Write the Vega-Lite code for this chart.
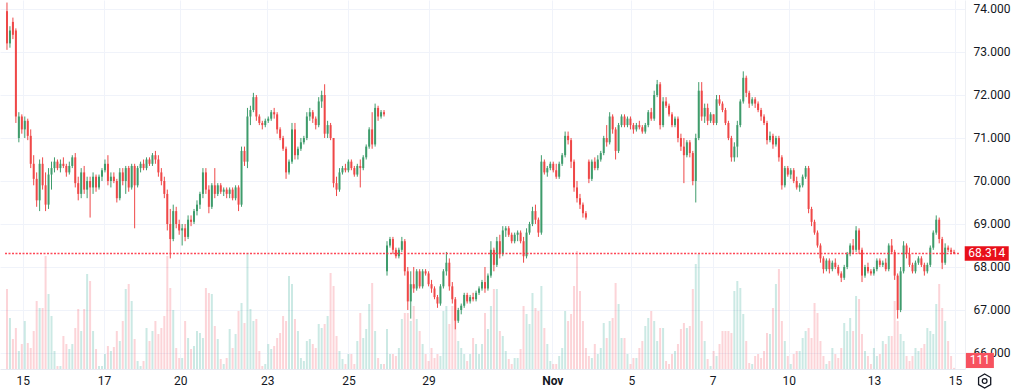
{
"$schema": "https://vega.github.io/schema/vega-lite/v6.json",
"width": 965, "height": 369,
"autosize": {"type": "none"},
"padding": {"left": 0, "top": 0, "right": 59, "bottom": 21},
"background": "#ffffff",
"config": {"view": {"stroke": null}, "font": "Roboto"},
"data": {"values": [
{"i":0,"o":73.95,"h":74.15,"l":73.05,"c":73.2,"v":8000},
{"i":1,"o":73.2,"h":73.6,"l":73.1,"c":73.5,"v":5100},
{"i":2,"o":73.7,"h":73.8,"l":73.3,"c":73.4,"v":3000},
{"i":3,"o":73.5,"h":73.55,"l":71.35,"c":71.5,"v":4100},
{"i":4,"o":71.0,"h":71.6,"l":70.9,"c":71.5,"v":1800},
{"i":5,"o":71.5,"h":71.55,"l":71.1,"c":71.2,"v":2500},
{"i":6,"o":71.2,"h":71.5,"l":71.0,"c":71.4,"v":4800},
{"i":7,"o":71.4,"h":71.45,"l":70.95,"c":71.05,"v":2600},
{"i":8,"o":71.05,"h":71.2,"l":70.3,"c":70.4,"v":2100},
{"i":9,"o":70.4,"h":70.6,"l":69.9,"c":70.05,"v":3800},
{"i":10,"o":70.05,"h":70.2,"l":69.4,"c":69.55,"v":6800},
{"i":11,"o":69.55,"h":70.5,"l":69.3,"c":70.4,"v":6100},
{"i":12,"o":70.4,"h":70.55,"l":69.8,"c":69.9,"v":6100},
{"i":13,"o":69.9,"h":70.2,"l":69.3,"c":69.45,"v":11300},
{"i":14,"o":69.45,"h":70.3,"l":69.35,"c":70.15,"v":7500},
{"i":15,"o":70.15,"h":70.45,"l":69.8,"c":70.3,"v":5300},
{"i":16,"o":70.3,"h":70.55,"l":70.2,"c":70.45,"v":1800},
{"i":17,"o":70.45,"h":70.5,"l":70.25,"c":70.3,"v":300},
{"i":18,"o":70.3,"h":70.5,"l":70.2,"c":70.4,"v":300},
{"i":19,"o":70.4,"h":70.55,"l":70.3,"c":70.35,"v":3300},
{"i":20,"o":70.35,"h":70.4,"l":70.1,"c":70.2,"v":2500},
{"i":21,"o":70.2,"h":70.45,"l":70.15,"c":70.35,"v":2000},
{"i":22,"o":70.35,"h":70.6,"l":70.3,"c":70.55,"v":2500},
{"i":23,"o":70.55,"h":70.65,"l":69.85,"c":69.95,"v":4100},
{"i":24,"o":69.95,"h":70.1,"l":69.55,"c":69.7,"v":6000},
{"i":25,"o":69.7,"h":70.3,"l":69.6,"c":70.2,"v":3800},
{"i":26,"o":70.2,"h":70.35,"l":69.7,"c":69.8,"v":6000},
{"i":27,"o":69.8,"h":70.1,"l":69.6,"c":70.0,"v":9500},
{"i":28,"o":70.0,"h":70.1,"l":69.15,"c":69.85,"v":8800},
{"i":29,"o":69.85,"h":70.2,"l":69.7,"c":70.1,"v":3800},
{"i":30,"o":70.1,"h":70.15,"l":69.75,"c":69.85,"v":2000},
{"i":31,"o":69.85,"h":70.15,"l":69.8,"c":70.1,"v":300},
{"i":32,"o":70.1,"h":70.3,"l":70.0,"c":70.25,"v":300},
{"i":33,"o":70.25,"h":70.5,"l":70.2,"c":70.4,"v":1500},
{"i":34,"o":70.4,"h":70.6,"l":69.9,"c":70.0,"v":2300},
{"i":35,"o":70.0,"h":70.2,"l":69.85,"c":70.1,"v":1800},
{"i":36,"o":70.1,"h":70.2,"l":69.95,"c":70.0,"v":2200},
{"i":37,"o":70.0,"h":70.05,"l":69.5,"c":69.6,"v":3800},
{"i":38,"o":69.6,"h":70.3,"l":69.55,"c":70.2,"v":2800},
{"i":39,"o":70.2,"h":70.3,"l":69.9,"c":70.0,"v":4800},
{"i":40,"o":70.0,"h":70.35,"l":69.7,"c":70.3,"v":8000},
{"i":41,"o":70.3,"h":70.35,"l":69.75,"c":69.85,"v":8500},
{"i":42,"o":69.85,"h":70.4,"l":69.8,"c":70.35,"v":6800},
{"i":43,"o":70.35,"h":70.4,"l":68.9,"c":69.9,"v":3000},
{"i":44,"o":69.9,"h":70.35,"l":69.85,"c":70.3,"v":800},
{"i":45,"o":70.3,"h":70.45,"l":70.2,"c":70.4,"v":300},
{"i":46,"o":70.4,"h":70.5,"l":70.25,"c":70.3,"v":800},
{"i":47,"o":70.3,"h":70.55,"l":70.25,"c":70.5,"v":4100},
{"i":48,"o":70.5,"h":70.55,"l":70.35,"c":70.4,"v":2800},
{"i":49,"o":70.4,"h":70.65,"l":70.35,"c":70.6,"v":3800},
{"i":50,"o":70.6,"h":70.7,"l":70.4,"c":70.5,"v":4800},
{"i":51,"o":70.5,"h":70.6,"l":70.1,"c":70.2,"v":3500},
{"i":52,"o":70.2,"h":70.3,"l":69.9,"c":70.0,"v":4100},
{"i":53,"o":70.0,"h":70.1,"l":69.6,"c":69.7,"v":5300},
{"i":54,"o":69.7,"h":69.8,"l":68.85,"c":69.0,"v":11300},
{"i":55,"o":69.0,"h":69.35,"l":68.2,"c":68.65,"v":8100},
{"i":56,"o":68.65,"h":69.45,"l":68.6,"c":69.3,"v":5900},
{"i":57,"o":69.3,"h":69.4,"l":68.9,"c":69.0,"v":2100},
{"i":58,"o":69.0,"h":69.1,"l":68.75,"c":68.85,"v":1100},
{"i":59,"o":68.85,"h":69.0,"l":68.5,"c":68.9,"v":1100},
{"i":60,"o":68.9,"h":69.0,"l":68.6,"c":68.7,"v":4800},
{"i":61,"o":68.7,"h":69.2,"l":68.65,"c":69.1,"v":3100},
{"i":62,"o":69.1,"h":69.2,"l":68.95,"c":69.05,"v":2000},
{"i":63,"o":69.05,"h":69.35,"l":69.0,"c":69.3,"v":2300},
{"i":64,"o":69.3,"h":69.55,"l":69.2,"c":69.45,"v":3800},
{"i":65,"o":69.45,"h":69.75,"l":69.35,"c":69.7,"v":3600},
{"i":66,"o":69.7,"h":70.3,"l":69.6,"c":70.2,"v":3100},
{"i":67,"o":70.2,"h":70.3,"l":69.7,"c":69.8,"v":8100},
{"i":68,"o":69.8,"h":69.9,"l":69.25,"c":69.4,"v":7600},
{"i":69,"o":69.4,"h":69.95,"l":69.35,"c":69.9,"v":7500},
{"i":70,"o":69.9,"h":70.3,"l":69.6,"c":69.7,"v":4300},
{"i":71,"o":69.7,"h":69.95,"l":69.65,"c":69.9,"v":3000},
{"i":72,"o":69.9,"h":69.95,"l":69.7,"c":69.75,"v":1000},
{"i":73,"o":69.75,"h":69.85,"l":69.65,"c":69.8,"v":500},
{"i":74,"o":69.8,"h":69.85,"l":69.6,"c":69.7,"v":1100},
{"i":75,"o":69.7,"h":69.85,"l":69.6,"c":69.8,"v":4000},
{"i":76,"o":69.8,"h":69.85,"l":69.55,"c":69.6,"v":2100},
{"i":77,"o":69.6,"h":69.9,"l":69.55,"c":69.85,"v":3500},
{"i":78,"o":69.85,"h":69.9,"l":69.3,"c":69.45,"v":5800},
{"i":79,"o":69.45,"h":70.8,"l":69.4,"c":70.7,"v":6600},
{"i":80,"o":70.7,"h":70.8,"l":70.35,"c":70.45,"v":4600},
{"i":81,"o":70.45,"h":71.7,"l":70.3,"c":71.5,"v":11600},
{"i":82,"o":71.5,"h":71.75,"l":71.3,"c":71.65,"v":6000},
{"i":83,"o":71.65,"h":72.05,"l":71.6,"c":71.95,"v":4800},
{"i":84,"o":71.95,"h":72.0,"l":71.4,"c":71.5,"v":5000},
{"i":85,"o":71.5,"h":71.55,"l":71.3,"c":71.35,"v":1800},
{"i":86,"o":71.35,"h":71.4,"l":71.2,"c":71.3,"v":300},
{"i":87,"o":71.3,"h":71.45,"l":71.25,"c":71.4,"v":500},
{"i":88,"o":71.4,"h":71.5,"l":71.35,"c":71.45,"v":2500},
{"i":89,"o":71.45,"h":71.65,"l":71.4,"c":71.6,"v":2000},
{"i":90,"o":71.6,"h":71.7,"l":71.45,"c":71.55,"v":2300},
{"i":91,"o":71.55,"h":71.6,"l":71.1,"c":71.2,"v":3100},
{"i":92,"o":71.2,"h":71.25,"l":70.95,"c":71.0,"v":3600},
{"i":93,"o":71.0,"h":71.05,"l":70.7,"c":70.75,"v":5300},
{"i":94,"o":70.75,"h":70.8,"l":70.05,"c":70.2,"v":4800},
{"i":95,"o":70.2,"h":70.5,"l":70.15,"c":70.45,"v":9300},
{"i":96,"o":70.45,"h":71.35,"l":70.4,"c":71.2,"v":8500},
{"i":97,"o":71.2,"h":71.35,"l":70.5,"c":70.6,"v":5000},
{"i":98,"o":70.6,"h":70.8,"l":70.5,"c":70.75,"v":3800},
{"i":99,"o":70.75,"h":71.0,"l":70.7,"c":70.9,"v":1100},
{"i":100,"o":70.9,"h":71.05,"l":70.85,"c":71.0,"v":800},
{"i":101,"o":71.0,"h":71.6,"l":70.95,"c":71.5,"v":2800},
{"i":102,"o":71.5,"h":71.7,"l":71.4,"c":71.6,"v":3000},
{"i":103,"o":71.6,"h":71.65,"l":71.35,"c":71.45,"v":2500},
{"i":104,"o":71.45,"h":71.5,"l":71.2,"c":71.3,"v":2100},
{"i":105,"o":71.3,"h":71.95,"l":71.25,"c":71.85,"v":4500},
{"i":106,"o":71.85,"h":72.1,"l":71.7,"c":72.0,"v":4100},
{"i":107,"o":72.0,"h":72.25,"l":71.0,"c":71.1,"v":4500},
{"i":108,"o":71.1,"h":71.4,"l":71.0,"c":71.3,"v":5300},
{"i":109,"o":71.3,"h":71.35,"l":70.95,"c":71.0,"v":9600},
{"i":110,"o":71.0,"h":71.0,"l":69.85,"c":69.95,"v":8300},
{"i":111,"o":69.95,"h":70.1,"l":69.65,"c":69.8,"v":3300},
{"i":112,"o":69.8,"h":70.3,"l":69.75,"c":70.2,"v":1800},
{"i":113,"o":70.2,"h":70.35,"l":70.15,"c":70.3,"v":1000},
{"i":114,"o":70.3,"h":70.4,"l":70.2,"c":70.25,"v":500},
{"i":115,"o":70.25,"h":70.5,"l":70.2,"c":70.45,"v":1500},
{"i":116,"o":70.45,"h":70.5,"l":70.25,"c":70.3,"v":1500},
{"i":117,"o":70.3,"h":70.35,"l":70.1,"c":70.15,"v":500},
{"i":118,"o":70.15,"h":70.4,"l":70.1,"c":70.35,"v":2800},
{"i":119,"o":70.35,"h":70.5,"l":69.85,"c":70.3,"v":5600},
{"i":120,"o":70.3,"h":70.6,"l":70.25,"c":70.55,"v":3100},
{"i":121,"o":70.55,"h":70.85,"l":70.5,"c":70.8,"v":4000},
{"i":122,"o":70.8,"h":71.25,"l":70.75,"c":71.2,"v":6500},
{"i":123,"o":71.2,"h":71.6,"l":70.75,"c":70.85,"v":8600},
{"i":124,"o":70.85,"h":71.8,"l":70.8,"c":71.7,"v":3800},
{"i":125,"o":71.7,"h":71.75,"l":71.4,"c":71.5,"v":1100},
{"i":126,"o":71.5,"h":71.65,"l":71.45,"c":71.6,"v":500},
{"i":127,"o":71.6,"h":71.65,"l":71.5,"c":71.55,"v":500},
{"i":128,"o":67.9,"h":68.6,"l":67.8,"c":68.5,"v":4000},
{"i":129,"o":68.5,"h":68.7,"l":68.45,"c":68.65,"v":1500},
{"i":130,"o":68.65,"h":68.7,"l":68.3,"c":68.4,"v":1500},
{"i":131,"o":68.4,"h":68.45,"l":68.2,"c":68.25,"v":1300},
{"i":132,"o":68.25,"h":68.45,"l":68.2,"c":68.4,"v":2100},
{"i":133,"o":68.4,"h":68.7,"l":68.35,"c":68.6,"v":5000},
{"i":134,"o":68.6,"h":68.65,"l":67.8,"c":67.9,"v":5600},
{"i":135,"o":67.9,"h":68.0,"l":67.0,"c":67.2,"v":5600},
{"i":136,"o":67.2,"h":67.9,"l":66.8,"c":67.6,"v":4800},
{"i":137,"o":67.6,"h":68.0,"l":67.4,"c":67.5,"v":6300},
{"i":138,"o":67.5,"h":67.95,"l":67.45,"c":67.9,"v":5000},
{"i":139,"o":67.9,"h":67.95,"l":67.5,"c":67.55,"v":3800},
{"i":140,"o":67.55,"h":67.95,"l":67.5,"c":67.9,"v":2500},
{"i":141,"o":67.9,"h":67.95,"l":67.8,"c":67.85,"v":1500},
{"i":142,"o":67.85,"h":67.9,"l":67.55,"c":67.6,"v":800},
{"i":143,"o":67.6,"h":67.7,"l":67.4,"c":67.5,"v":2100},
{"i":144,"o":67.5,"h":67.55,"l":67.25,"c":67.3,"v":1100},
{"i":145,"o":67.3,"h":67.35,"l":67.05,"c":67.15,"v":1500},
{"i":146,"o":67.15,"h":67.6,"l":67.1,"c":67.55,"v":1300},
{"i":147,"o":67.55,"h":67.95,"l":67.5,"c":67.9,"v":5800},
{"i":148,"o":67.9,"h":68.35,"l":67.8,"c":68.1,"v":6300},
{"i":149,"o":68.1,"h":68.2,"l":67.45,"c":67.55,"v":4500},
{"i":150,"o":67.55,"h":67.65,"l":67.15,"c":67.25,"v":6300},
{"i":151,"o":67.25,"h":67.3,"l":66.55,"c":66.75,"v":4800},
{"i":152,"o":66.75,"h":67.05,"l":66.7,"c":67.0,"v":2800},
{"i":153,"o":67.0,"h":67.15,"l":66.9,"c":67.1,"v":2100},
{"i":154,"o":67.1,"h":67.4,"l":67.05,"c":67.35,"v":1500},
{"i":155,"o":67.35,"h":67.4,"l":67.15,"c":67.2,"v":800},
{"i":156,"o":67.2,"h":67.35,"l":67.15,"c":67.3,"v":1500},
{"i":157,"o":67.3,"h":67.4,"l":67.2,"c":67.25,"v":3100},
{"i":158,"o":67.25,"h":67.45,"l":67.2,"c":67.4,"v":2500},
{"i":159,"o":67.4,"h":67.55,"l":67.35,"c":67.5,"v":1500},
{"i":160,"o":67.5,"h":67.7,"l":67.45,"c":67.65,"v":2500},
{"i":161,"o":67.65,"h":68.0,"l":67.4,"c":67.5,"v":5600},
{"i":162,"o":67.5,"h":67.85,"l":67.45,"c":67.8,"v":4000},
{"i":163,"o":67.8,"h":68.6,"l":67.75,"c":68.4,"v":6300},
{"i":164,"o":68.4,"h":68.45,"l":67.9,"c":68.05,"v":8000},
{"i":165,"o":68.05,"h":68.7,"l":68.0,"c":68.6,"v":8000},
{"i":166,"o":68.6,"h":68.75,"l":68.2,"c":68.3,"v":3800},
{"i":167,"o":68.3,"h":68.95,"l":68.25,"c":68.85,"v":3300},
{"i":168,"o":68.85,"h":68.95,"l":68.7,"c":68.9,"v":1800},
{"i":169,"o":68.9,"h":68.95,"l":68.7,"c":68.75,"v":1000},
{"i":170,"o":68.75,"h":68.8,"l":68.55,"c":68.6,"v":500},
{"i":171,"o":68.6,"h":68.8,"l":68.55,"c":68.75,"v":1100},
{"i":172,"o":68.75,"h":68.85,"l":68.6,"c":68.8,"v":1100},
{"i":173,"o":68.8,"h":68.85,"l":68.55,"c":68.6,"v":2000},
{"i":174,"o":68.6,"h":68.7,"l":68.1,"c":68.25,"v":6300},
{"i":175,"o":68.25,"h":68.9,"l":68.2,"c":68.8,"v":5500},
{"i":176,"o":68.8,"h":69.05,"l":68.75,"c":69.0,"v":4500},
{"i":177,"o":69.0,"h":69.4,"l":68.95,"c":69.3,"v":7600},
{"i":178,"o":69.3,"h":69.45,"l":69.0,"c":69.1,"v":6100},
{"i":179,"o":69.1,"h":69.15,"l":68.7,"c":68.8,"v":5800},
{"i":180,"o":68.8,"h":70.6,"l":68.75,"c":70.45,"v":8300},
{"i":181,"o":70.45,"h":70.5,"l":70.15,"c":70.2,"v":4100},
{"i":182,"o":70.2,"h":70.35,"l":70.1,"c":70.3,"v":2500},
{"i":183,"o":70.3,"h":70.45,"l":70.25,"c":70.4,"v":800},
{"i":184,"o":70.4,"h":70.45,"l":70.2,"c":70.25,"v":500},
{"i":185,"o":70.25,"h":70.4,"l":70.05,"c":70.1,"v":500},
{"i":186,"o":70.1,"h":70.45,"l":70.05,"c":70.4,"v":1300},
{"i":187,"o":70.4,"h":70.65,"l":70.35,"c":70.6,"v":2100},
{"i":188,"o":70.6,"h":71.15,"l":70.55,"c":71.05,"v":5800},
{"i":189,"o":71.05,"h":71.15,"l":70.85,"c":70.95,"v":4800},
{"i":190,"o":70.95,"h":71.0,"l":70.3,"c":70.45,"v":5500},
{"i":191,"o":70.45,"h":70.5,"l":69.75,"c":69.85,"v":8300},
{"i":192,"o":69.85,"h":70.0,"l":69.5,"c":69.6,"v":11800},
{"i":193,"o":69.6,"h":69.7,"l":69.35,"c":69.45,"v":7800},
{"i":194,"o":69.45,"h":69.5,"l":69.15,"c":69.25,"v":4800},
{"i":195,"o":69.25,"h":69.3,"l":69.1,"c":69.15,"v":2100},
{"i":196,"o":70.45,"h":70.5,"l":69.95,"c":70.05,"v":1300},
{"i":197,"o":70.05,"h":70.5,"l":70.0,"c":70.45,"v":1100},
{"i":198,"o":70.45,"h":70.55,"l":70.25,"c":70.3,"v":2500},
{"i":199,"o":70.3,"h":70.6,"l":70.25,"c":70.5,"v":1500},
{"i":200,"o":70.5,"h":70.7,"l":70.45,"c":70.65,"v":2100},
{"i":201,"o":70.65,"h":71.05,"l":70.6,"c":71.0,"v":4600},
{"i":202,"o":71.0,"h":71.3,"l":70.8,"c":70.9,"v":3100},
{"i":203,"o":70.9,"h":71.6,"l":70.85,"c":71.5,"v":4800},
{"i":204,"o":71.5,"h":71.55,"l":71.1,"c":71.2,"v":5100},
{"i":205,"o":71.2,"h":71.25,"l":70.5,"c":70.7,"v":8600},
{"i":206,"o":70.7,"h":71.35,"l":70.65,"c":71.3,"v":6500},
{"i":207,"o":71.3,"h":71.55,"l":71.25,"c":71.5,"v":3100},
{"i":208,"o":71.5,"h":71.55,"l":71.25,"c":71.3,"v":3100},
{"i":209,"o":71.3,"h":71.5,"l":71.25,"c":71.45,"v":1500},
{"i":210,"o":71.45,"h":71.5,"l":71.2,"c":71.3,"v":500},
{"i":211,"o":71.3,"h":71.35,"l":71.1,"c":71.2,"v":1100},
{"i":212,"o":71.2,"h":71.35,"l":71.15,"c":71.3,"v":1100},
{"i":213,"o":71.3,"h":71.4,"l":71.2,"c":71.25,"v":2100},
{"i":214,"o":71.25,"h":71.3,"l":71.1,"c":71.15,"v":2800},
{"i":215,"o":71.15,"h":71.35,"l":71.1,"c":71.3,"v":4300},
{"i":216,"o":71.3,"h":71.65,"l":71.25,"c":71.6,"v":5100},
{"i":217,"o":71.6,"h":71.7,"l":71.4,"c":71.45,"v":5800},
{"i":218,"o":71.45,"h":72.1,"l":71.4,"c":72.0,"v":4800},
{"i":219,"o":72.0,"h":72.35,"l":71.95,"c":72.25,"v":2800},
{"i":220,"o":72.25,"h":72.3,"l":71.2,"c":71.3,"v":4100},
{"i":221,"o":71.3,"h":71.95,"l":71.25,"c":71.85,"v":4100},
{"i":222,"o":71.85,"h":71.95,"l":71.7,"c":71.75,"v":800},
{"i":223,"o":71.75,"h":71.8,"l":71.5,"c":71.55,"v":500},
{"i":224,"o":71.55,"h":71.6,"l":71.25,"c":71.3,"v":1500},
{"i":225,"o":71.3,"h":71.5,"l":71.25,"c":71.45,"v":1800},
{"i":226,"o":71.45,"h":71.5,"l":70.9,"c":71.0,"v":2500},
{"i":227,"o":71.0,"h":71.1,"l":70.7,"c":70.8,"v":4000},
{"i":228,"o":70.8,"h":71.0,"l":69.95,"c":70.6,"v":4600},
{"i":229,"o":70.6,"h":70.95,"l":70.55,"c":70.9,"v":4100},
{"i":230,"o":70.9,"h":70.95,"l":70.55,"c":70.65,"v":4300},
{"i":231,"o":70.65,"h":70.7,"l":69.9,"c":70.0,"v":8000},
{"i":232,"o":70.0,"h":71.1,"l":69.5,"c":71.0,"v":10500},
{"i":233,"o":71.0,"h":72.3,"l":70.95,"c":72.1,"v":11500},
{"i":234,"o":72.1,"h":72.3,"l":71.4,"c":71.5,"v":4800},
{"i":235,"o":71.5,"h":71.8,"l":71.35,"c":71.7,"v":2800},
{"i":236,"o":71.7,"h":71.8,"l":71.3,"c":71.4,"v":1000},
{"i":237,"o":71.4,"h":71.6,"l":71.35,"c":71.55,"v":300},
{"i":238,"o":71.55,"h":71.55,"l":71.3,"c":71.35,"v":1800},
{"i":239,"o":71.35,"h":72.0,"l":71.3,"c":71.9,"v":1300},
{"i":240,"o":71.9,"h":72.0,"l":71.75,"c":71.8,"v":2500},
{"i":241,"o":71.8,"h":71.85,"l":71.6,"c":71.65,"v":3800},
{"i":242,"o":71.65,"h":71.7,"l":71.3,"c":71.35,"v":3800},
{"i":243,"o":71.35,"h":71.4,"l":70.95,"c":71.0,"v":3800},
{"i":244,"o":71.0,"h":71.05,"l":70.45,"c":70.55,"v":3600},
{"i":245,"o":70.55,"h":70.9,"l":70.45,"c":70.8,"v":7800},
{"i":246,"o":70.8,"h":71.4,"l":70.55,"c":71.3,"v":8800},
{"i":247,"o":71.3,"h":71.9,"l":71.25,"c":71.85,"v":8100},
{"i":248,"o":71.85,"h":72.55,"l":71.8,"c":72.4,"v":5500},
{"i":249,"o":72.4,"h":72.45,"l":71.95,"c":72.05,"v":2800},
{"i":250,"o":72.05,"h":72.1,"l":71.7,"c":71.8,"v":600},
{"i":251,"o":71.8,"h":71.95,"l":71.75,"c":71.9,"v":500},
{"i":252,"o":71.9,"h":71.95,"l":71.7,"c":71.8,"v":1300},
{"i":253,"o":71.8,"h":71.85,"l":71.6,"c":71.65,"v":1500},
{"i":254,"o":71.65,"h":71.7,"l":71.4,"c":71.5,"v":1100},
{"i":255,"o":71.5,"h":71.55,"l":71.3,"c":71.35,"v":1800},
{"i":256,"o":71.35,"h":71.4,"l":70.85,"c":70.95,"v":3600},
{"i":257,"o":70.95,"h":71.15,"l":70.9,"c":71.05,"v":3500},
{"i":258,"o":71.05,"h":71.1,"l":70.75,"c":70.85,"v":6100},
{"i":259,"o":70.85,"h":71.05,"l":70.8,"c":71.0,"v":8500},
{"i":260,"o":71.0,"h":71.05,"l":70.45,"c":70.55,"v":10000},
{"i":261,"o":70.55,"h":70.6,"l":69.8,"c":69.9,"v":4800},
{"i":262,"o":69.9,"h":70.35,"l":69.85,"c":70.3,"v":2800},
{"i":263,"o":70.3,"h":70.35,"l":70.1,"c":70.15,"v":1300},
{"i":264,"o":70.15,"h":70.3,"l":70.05,"c":70.25,"v":500},
{"i":265,"o":70.25,"h":70.3,"l":69.95,"c":70.0,"v":1500},
{"i":266,"o":70.0,"h":70.1,"l":69.8,"c":69.85,"v":1800},
{"i":267,"o":69.85,"h":69.95,"l":69.75,"c":69.9,"v":1800},
{"i":268,"o":69.9,"h":70.15,"l":69.85,"c":70.1,"v":3100},
{"i":269,"o":70.1,"h":70.35,"l":70.05,"c":70.3,"v":3800},
{"i":270,"o":70.3,"h":70.35,"l":69.25,"c":69.35,"v":4100},
{"i":271,"o":69.35,"h":69.4,"l":68.95,"c":69.05,"v":3100},
{"i":272,"o":69.05,"h":69.1,"l":68.75,"c":68.8,"v":6600},
{"i":273,"o":68.8,"h":68.85,"l":68.45,"c":68.5,"v":5600},
{"i":274,"o":68.5,"h":68.55,"l":68.1,"c":68.2,"v":2800},
{"i":275,"o":68.2,"h":68.25,"l":67.85,"c":67.95,"v":1300},
{"i":276,"o":67.95,"h":68.2,"l":67.9,"c":68.15,"v":500},
{"i":277,"o":68.15,"h":68.2,"l":67.85,"c":67.95,"v":800},
{"i":278,"o":67.95,"h":68.15,"l":67.9,"c":68.1,"v":2100},
{"i":279,"o":68.1,"h":68.2,"l":67.95,"c":68.0,"v":1500},
{"i":280,"o":68.0,"h":68.05,"l":67.8,"c":67.85,"v":1100},
{"i":281,"o":67.85,"h":67.9,"l":67.65,"c":67.75,"v":2100},
{"i":282,"o":67.75,"h":68.05,"l":67.7,"c":68.0,"v":4600},
{"i":283,"o":68.0,"h":68.35,"l":67.95,"c":68.3,"v":3800},
{"i":284,"o":68.3,"h":68.55,"l":68.25,"c":68.5,"v":5100},
{"i":285,"o":68.5,"h":68.65,"l":68.3,"c":68.4,"v":3800},
{"i":286,"o":68.4,"h":68.95,"l":68.35,"c":68.85,"v":7300},
{"i":287,"o":68.85,"h":68.9,"l":68.3,"c":68.4,"v":7000},
{"i":288,"o":68.4,"h":68.45,"l":67.65,"c":67.8,"v":3500},
{"i":289,"o":67.8,"h":68.05,"l":67.75,"c":68.0,"v":1800},
{"i":290,"o":68.0,"h":68.1,"l":67.85,"c":67.9,"v":1300},
{"i":291,"o":67.9,"h":67.95,"l":67.8,"c":67.85,"v":500},
{"i":292,"o":67.85,"h":68.0,"l":67.8,"c":67.95,"v":2100},
{"i":293,"o":67.95,"h":68.2,"l":67.9,"c":68.15,"v":1300},
{"i":294,"o":68.15,"h":68.2,"l":68.0,"c":68.05,"v":1500},
{"i":295,"o":68.05,"h":68.15,"l":68.0,"c":68.1,"v":2800},
{"i":296,"o":68.1,"h":68.2,"l":67.9,"c":67.95,"v":2500},
{"i":297,"o":67.95,"h":68.55,"l":67.9,"c":68.5,"v":3300},
{"i":298,"o":68.5,"h":68.65,"l":68.3,"c":68.35,"v":3300},
{"i":299,"o":68.35,"h":68.4,"l":67.7,"c":67.8,"v":6800},
{"i":300,"o":67.8,"h":67.85,"l":66.8,"c":67.0,"v":4800},
{"i":301,"o":67.0,"h":68.0,"l":66.95,"c":67.9,"v":3500},
{"i":302,"o":67.9,"h":68.6,"l":67.85,"c":68.5,"v":2800},
{"i":303,"o":68.5,"h":68.55,"l":68.2,"c":68.3,"v":1300},
{"i":304,"o":68.3,"h":68.45,"l":68.0,"c":68.05,"v":800},
{"i":305,"o":68.05,"h":68.1,"l":67.85,"c":67.9,"v":1300},
{"i":306,"o":67.9,"h":68.15,"l":67.85,"c":68.1,"v":2100},
{"i":307,"o":68.1,"h":68.25,"l":68.05,"c":68.2,"v":1800},
{"i":308,"o":68.2,"h":68.25,"l":68.0,"c":68.05,"v":2100},
{"i":309,"o":68.05,"h":68.1,"l":67.8,"c":67.9,"v":2500},
{"i":310,"o":67.9,"h":68.1,"l":67.85,"c":68.05,"v":4100},
{"i":311,"o":68.05,"h":68.5,"l":68.0,"c":68.45,"v":3800},
{"i":312,"o":68.45,"h":68.85,"l":68.4,"c":68.8,"v":3500},
{"i":313,"o":68.8,"h":69.2,"l":68.75,"c":69.1,"v":6500},
{"i":314,"o":69.1,"h":69.15,"l":68.55,"c":68.65,"v":8500},
{"i":315,"o":68.65,"h":68.7,"l":67.95,"c":68.1,"v":6100},
{"i":316,"o":68.1,"h":68.55,"l":68.05,"c":68.45,"v":4800},
{"i":317,"o":68.45,"h":68.5,"l":68.35,"c":68.4,"v":2800},
{"i":318,"o":68.4,"h":68.45,"l":68.3,"c":68.35,"v":1300},
{"i":319,"o":68.35,"h":68.4,"l":68.3,"c":68.314,"v":111}
]},
"layer": [
{"layer": [
 {"mark": {"type": "bar", "width": 2, "orient": "vertical"},
  "encoding": {
   "x": {"field": "i", "type": "quantitative", "scale": {"domain": [-0.6667, 321], "nice": false, "zero": false}},
   "y": {"field": "v", "type": "quantitative", "stack": null, "scale": {"domain": [0, 36900], "nice": false}, "axis": null},
   "color": {"condition": {"test": "datum.c >= datum.o", "value": "#089981"}, "value": "#f23645"},
   "opacity": {"value": 0.21}}}
]},
{"layer": [
 {"mark": {"type": "bar", "width": 2, "orient": "vertical"},
  "encoding": {
   "x": {"field": "i", "type": "quantitative", "scale": {"domain": [-0.6667, 321], "nice": false, "zero": false},
    "axis": {"values": [5.33, 32.67, 58.33, 87.67, 115, 142, 183.67, 210.33, 237.67, 263.33, 292, 319.33],
     "labelExpr": "datum.value < 20 ? '15' : datum.value < 45 ? '17' : datum.value < 70 ? '20' : datum.value < 100 ? '23' : datum.value < 130 ? '25' : datum.value < 160 ? '29' : datum.value < 195 ? 'Nov' : datum.value < 225 ? '5' : datum.value < 250 ? '7' : datum.value < 275 ? '10' : datum.value < 305 ? '13' : '15'",
     "labelFontWeight": {"condition": {"test": "datum.value > 180 && datum.value < 190", "value": "bold"}, "value": "normal"},
     "title": null, "grid": true, "gridColor": "#f0f3fa", "domain": true, "domainColor": "#e6e9f0", "ticks": false,
     "labelPadding": 6, "labelFontSize": 12, "labelColor": "#131722", "labelFlush": false, "labelOverlap": false, "zindex": 0}},
   "y": {"field": "o", "type": "quantitative", "scale": {"domain": [65.6279, 74.2093], "nice": false, "zero": false},
    "axis": {"orient": "right", "values": [66, 67, 68, 69, 70, 71, 72, 73, 74], "format": ".3f", "title": null,
     "grid": true, "gridColor": "#f0f3fa", "domain": true, "domainColor": "#eef0f4", "ticks": false,
     "labelPadding": 8, "labelFontSize": 12, "labelColor": "#131722", "zindex": 0}},
   "y2": {"field": "c"},
   "color": {"condition": {"test": "datum.c >= datum.o", "value": "#3f9c6c"}, "value": "#ef4848"}}},
 {"mark": {"type": "rule", "strokeWidth": 1},
  "encoding": {
   "x": {"field": "i", "type": "quantitative"},
   "y": {"field": "l", "type": "quantitative"},
   "y2": {"field": "h"},
   "color": {"condition": {"test": "datum.c >= datum.o", "value": "#3f9c6c"}, "value": "#ef4848"}}},
 {"transform": [{"filter": "datum.i == 319"}],
  "mark": {"type": "rule", "strokeWidth": 1.5, "strokeDash": [2, 1.5], "stroke": "#ff3344", "color": "#ff3344", "opacity": 0.9},
  "encoding": {"x": {"datum": -0.6667, "type": "quantitative"}, "x2": {"datum": 321}, "y": {"field": "c", "type": "quantitative"}}},
 {"transform": [{"filter": "datum.i == 319"}],
  "mark": {"type": "point", "shape": "M-1,-0.33H1V0.33H-1Z", "size": 1936, "filled": true, "opacity": 1},
  "encoding": {"x": {"datum": 330, "type": "quantitative"}, "y": {"field": "c", "type": "quantitative"}, "color": {"value": "#e8101a"}}},
 {"transform": [{"filter": "datum.i == 319"}],
  "mark": {"type": "text", "fontSize": 12, "align": "center", "baseline": "middle"},
  "encoding": {"x": {"datum": 330, "type": "quantitative"}, "y": {"field": "c", "type": "quantitative"}, "text": {"field": "c", "type": "quantitative", "format": ".3f"}, "color": {"value": "#ffffff"}}},
 {"transform": [{"filter": "datum.i == 319"}],
  "mark": {"type": "point", "shape": "M-1,-0.54H1V0.54H-1Z", "size": 784, "filled": true, "opacity": 1},
  "encoding": {"x": {"datum": 327.7, "type": "quantitative"}, "y": {"datum": 65.826, "type": "quantitative"}, "color": {"value": "#f7525f"}}},
 {"transform": [{"filter": "datum.i == 319"}],
  "mark": {"type": "text", "fontSize": 12, "align": "center", "baseline": "middle"},
  "encoding": {"x": {"datum": 327.7, "type": "quantitative"}, "y": {"datum": 65.826, "type": "quantitative"}, "text": {"field": "v", "type": "quantitative", "format": "d"}, "color": {"value": "#ffffff"}}},
 {"transform": [{"filter": "datum.i == 319"}],
  "mark": {"type": "point", "shape": "M0,-1L0.866,-0.5L0.866,0.5L0,1L-0.866,0.5L-0.866,-0.5Z", "size": 196, "filled": false, "strokeWidth": 1.3, "opacity": 1},
  "encoding": {"x": {"datum": 329.3, "type": "quantitative"}, "y": {"datum": 65.348, "type": "quantitative"}, "color": {"value": "#131722"}}},
 {"transform": [{"filter": "datum.i == 319"}],
  "mark": {"type": "point", "shape": "circle", "size": 22, "filled": false, "strokeWidth": 1.3, "opacity": 1},
  "encoding": {"x": {"datum": 329.3, "type": "quantitative"}, "y": {"datum": 65.348, "type": "quantitative"}, "color": {"value": "#131722"}}}
]}
],
"resolve": {"scale": {"y": "independent"}}
}
